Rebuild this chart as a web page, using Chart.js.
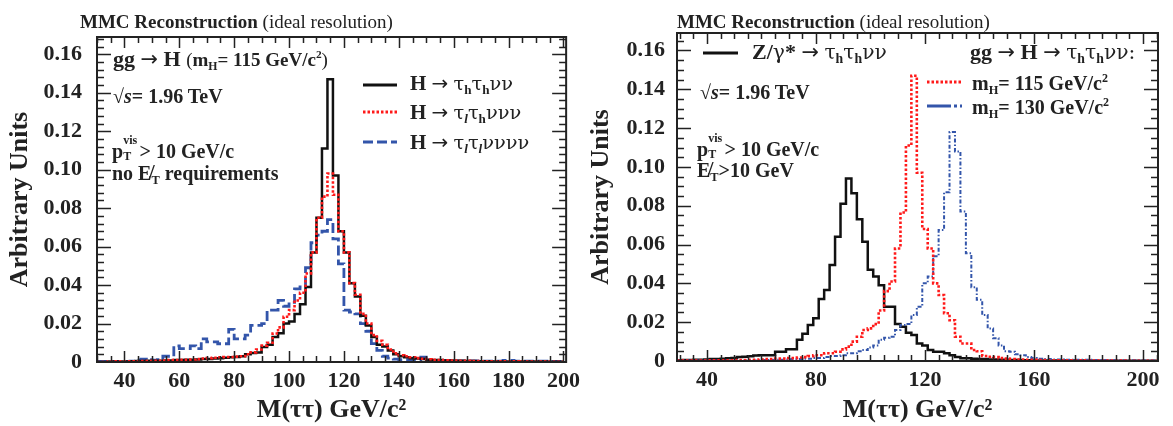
<!DOCTYPE html>
<html><head><meta charset="utf-8">
<script src="https://cdn.jsdelivr.net/npm/chart.js@4.4.1/dist/chart.umd.min.js"></script>
<style>
html,body{margin:0;padding:0;background:#fff;}
#wrap{position:relative;width:1173px;height:426px;overflow:hidden;background:#fff}
canvas{position:absolute;top:0}
.a{position:absolute;font-family:'Liberation Serif',serif;font-weight:bold;font-size:20px;line-height:1;white-space:nowrap;color:#222}
.n{font-weight:normal}
.g{font-family:'DejaVu Serif',serif;font-weight:normal;font-size:0.92em}
.ar{font-family:'DejaVu Sans',sans-serif;font-weight:normal;font-size:0.95em}
.a sub{font-family:'Liberation Serif',serif;font-size:0.62em;vertical-align:-0.3em;line-height:0;font-weight:bold}
.g sub{font-size:0.68em}
.a sup{font-size:0.6em;vertical-align:0.7em;line-height:0}
.st{display:inline-block;position:relative;width:0.82em;height:1em}
.st b{position:absolute;left:0;font-size:12px;line-height:1}
svg{position:absolute;left:0;top:0;overflow:visible}
</style></head><body>
<div id="wrap">
<canvas id="c1" width="586" height="426" style="left:0"></canvas>
<canvas id="c2" width="587" height="426" style="left:586px"></canvas>
<svg width="1173" height="426">
  <line x1="363" y1="85" x2="397" y2="85" stroke="#111" stroke-width="3"/>
  <line x1="363" y1="112" x2="397" y2="112" stroke="#ff1a1a" stroke-width="3" stroke-dasharray="2.5,2"/>
  <line x1="363" y1="142" x2="397" y2="142" stroke="#3355aa" stroke-width="3" stroke-dasharray="10,4"/>
  <line x1="703" y1="53" x2="738" y2="53" stroke="#111" stroke-width="3"/>
  <line x1="927" y1="82" x2="962" y2="82" stroke="#ff1a1a" stroke-width="3" stroke-dasharray="2.5,2"/>
  <line x1="927" y1="106" x2="962" y2="106" stroke="#3355aa" stroke-width="3" stroke-dasharray="24,3,3,3"/>
</svg>
<!-- left panel texts -->
<div class="a" style="left:80px;top:12px;font-size:19px">MMC Reconstruction <span class="n">(ideal resolution)</span></div>
<div class="a" style="left:113px;top:48px;font-size:22px">gg <span class="ar">→</span> H <span style="font-size:19px"><span class="n">(</span>m<sub>H</sub>= 115 GeV/c<sup>2</sup><span class="n">)</span></span></div>
<div class="a" style="left:113px;top:86px">√<i>s</i>= 1.96 TeV</div>
<div class="a" style="left:112px;top:138px">p<span class="st"><b style="top:-4px">vis</b><b style="top:12px">T</b></span>&gt; 10 GeV/c</div>
<div class="a" style="left:112px;top:163px">no E̸<sub>T</sub> requirements</div>
<div class="a" style="left:410px;top:73px;font-size:21px">H <span class="ar">→</span> <span class="g">τ<sub>h</sub>τ<sub>h</sub>νν</span></div>
<div class="a" style="left:410px;top:102px;font-size:21px">H <span class="ar">→</span> <span class="g">τ<sub><i>l</i></sub>τ<sub>h</sub>ννν</span></div>
<div class="a" style="left:410px;top:132px;font-size:21px">H <span class="ar">→</span> <span class="g">τ<sub><i>l</i></sub>τ<sub><i>l</i></sub>νννν</span></div>
<!-- right panel texts -->
<div class="a" style="left:677px;top:12px;font-size:19px">MMC Reconstruction <span class="n">(ideal resolution)</span></div>
<div class="a" style="left:752px;top:41px;font-size:22px">Z/<span class="g">γ</span>* <span class="ar">→</span> <span class="g">τ<sub>h</sub>τ<sub>h</sub>νν</span></div>
<div class="a" style="left:970px;top:41px;font-size:22px">gg <span class="ar">→</span> H <span class="ar">→</span> <span class="g">τ<sub>h</sub>τ<sub>h</sub>νν:</span></div>
<div class="a" style="left:972px;top:73px">m<sub>H</sub>= 115 GeV/c<sup>2</sup></div>
<div class="a" style="left:972px;top:97px">m<sub>H</sub>= 130 GeV/c<sup>2</sup></div>
<div class="a" style="left:700px;top:82px">√<i>s</i>= 1.96 TeV</div>
<div class="a" style="left:697px;top:136px">p<span class="st"><b style="top:-4px">vis</b><b style="top:12px">T</b></span>&gt; 10 GeV/c</div>
<div class="a" style="left:697px;top:160px">E̸<sub>T</sub>&gt;10 GeV</div>
</div>
<script>
// ---- binning and tick labels ----
const leftBinStart = 30;
const rightBinStart = 29;
const binWidth = 2;
const leftXTicks = [40, 60, 80, 100, 120, 140, 160, 180, 200];
const rightXTicks = [40, 80, 120, 160, 200];
const yTicks = [0, 0.02, 0.04, 0.06, 0.08, 0.10, 0.12, 0.14, 0.16];
const seriesNames = ['H → τhτhνν', 'H → τlτhννν', 'H → τlτlνννν', 'Z/γ* → τhτhνν', 'mH = 115 GeV/c²', 'mH = 130 GeV/c²'];

// ---- left panel: gg -> H (mH = 115), bins 30..200 ----
const leftHadHad = [
  0, 0, 0.0002, 0.0002, 0.0003,
  0.0003, 0.0004, 0.0005, 0.0005, 0.0006,
  0.0006, 0.0007, 0.0008, 0.0008, 0.001,
  0.001, 0.0012, 0.0012, 0.0013, 0.0015,
  0.0015, 0.0018, 0.002, 0.0022, 0.0025,
  0.0026, 0.003, 0.004, 0.0047, 0.005,
  0.0078, 0.009, 0.013, 0.015, 0.02,
  0.021, 0.025, 0.03, 0.039, 0.057,
  0.075, 0.111, 0.147, 0.097, 0.068,
  0.057, 0.041, 0.034, 0.024, 0.019,
  0.013, 0.009, 0.008, 0.006, 0.004,
  0.003, 0.0025, 0.002, 0.0018, 0.0015,
  0.0012, 0.001, 0.001, 0.0008, 0.0008,
  0.0007, 0.0006, 0.0005, 0.0005, 0.0004,
  0.0004, 0.0004, 0.0003, 0.0003, 0.0003,
  0.0003, 0.0002, 0.0002, 0.0002, 0.0002,
  0.0002, 0.0002, 0.0001, 0.0001, 0.0001
];
const leftLepHad = [
  0, 0, 0.0002, 0.0003, 0.0003,
  0.0003, 0.0003, 0.0004, 0.0005, 0.0005,
  0.0006, 0.0006, 0.0008, 0.001, 0.001,
  0.0012, 0.0012, 0.0013, 0.0015, 0.0018,
  0.002, 0.0022, 0.0025, 0.0026, 0.0026,
  0.0028, 0.003, 0.004, 0.005, 0.0065,
  0.0085, 0.01, 0.0148, 0.018, 0.0235,
  0.027, 0.032, 0.036, 0.046, 0.057,
  0.075, 0.086, 0.098, 0.087, 0.068,
  0.057, 0.041, 0.035, 0.025, 0.02,
  0.014, 0.011, 0.009, 0.0065, 0.0045,
  0.0035, 0.003, 0.0025, 0.002, 0.0017,
  0.0014, 0.0012, 0.001, 0.0009, 0.0008,
  0.0007, 0.0006, 0.0006, 0.0005, 0.0005,
  0.0004, 0.0004, 0.0004, 0.0003, 0.0003,
  0.0003, 0.0003, 0.0002, 0.0002, 0.0002,
  0.0002, 0.0002, 0.0002, 0.0001, 0.0001
];
const leftLepLep = [
  0.0003, 0.0003, 0.0003, 0.0003, 0.0003,
  0.0003, 0.0005, 0.001, 0.0015, 0.0012,
  0.001, 0.0012, 0.003, 0.003, 0.0084,
  0.007, 0.007, 0.0084, 0.007, 0.012,
  0.0105, 0.0105, 0.0095, 0.0095, 0.017,
  0.012, 0.012, 0.014, 0.019, 0.019,
  0.020, 0.027, 0.027, 0.032, 0.029,
  0.031, 0.038, 0.039, 0.049, 0.062,
  0.066, 0.068, 0.074, 0.064, 0.051,
  0.027, 0.026, 0.025, 0.020, 0.016,
  0.0096, 0.006, 0.003, 0.002, 0.0015,
  0.0012, 0.0012, 0.001, 0.001, 0.0025,
  0.001, 0.0008, 0.0008, 0.0008, 0.0008,
  0.0006, 0.0006, 0.0006, 0.0006, 0.0006,
  0.0005, 0.0005, 0.0005, 0.0005, 0.0008,
  0.0008, 0.0005, 0.0005, 0.0004, 0.0004,
  0.0004, 0.0004, 0.0003, 0.0003, 0.0003
];

// ---- right panel: Z vs H, bins 29..205 ----
const rightZ = [
  0.0004,
  0.0005, 0.0005, 0.0006, 0.0006, 0.0008,
  0.001, 0.001, 0.0012, 0.0014, 0.0015,
  0.002, 0.0022, 0.0025, 0.0028, 0.003,
  0.003, 0.003, 0.0048, 0.0048, 0.006,
  0.006, 0.011, 0.014, 0.0186, 0.022,
  0.032, 0.0366, 0.0495, 0.064, 0.081,
  0.094, 0.0864, 0.073, 0.0615, 0.047,
  0.0435, 0.039, 0.028, 0.028, 0.019,
  0.0177, 0.0146, 0.0134, 0.009, 0.008,
  0.0057, 0.0048, 0.0048, 0.004, 0.003,
  0.002, 0.0014, 0.0014, 0.0012, 0.001,
  0.001, 0.0008, 0.0008, 0.0007, 0.0006,
  0.0005, 0.0005, 0.0004, 0.0004, 0.0003,
  0.0003, 0.0003, 0.0003, 0.0002, 0.0002,
  0.0002, 0.0002, 0.0002, 0.0002, 0.0002,
  0.0001, 0.0001, 0.0001, 0.0001, 0.0001,
  0.0001, 0.0001, 0.0001, 0.0001, 0.0001,
  0.0001, 0.0001
];
const rightH115 = [
  0.0002,
  0.0002, 0.0002, 0.0002, 0.0002, 0.0002,
  0.0003, 0.0003, 0.0003, 0.0003, 0.0003,
  0.0005, 0.0005, 0.0006, 0.0006, 0.0008,
  0.001, 0.001, 0.0012, 0.0012, 0.0015,
  0.0015, 0.0018, 0.002, 0.0025, 0.003,
  0.003, 0.004, 0.004, 0.0048, 0.006,
  0.0074, 0.010, 0.0125, 0.016, 0.0168,
  0.019, 0.026, 0.036, 0.041, 0.058,
  0.0765, 0.111, 0.147, 0.097, 0.068,
  0.058, 0.040, 0.034, 0.0246, 0.021,
  0.0125, 0.009, 0.009, 0.0057, 0.005,
  0.0026, 0.0022, 0.002, 0.0015, 0.0012,
  0.001, 0.0008, 0.0008, 0.0006, 0.0006,
  0.0005, 0.0005, 0.0004, 0.0004, 0.0003,
  0.0003, 0.0003, 0.0003, 0.0003, 0.0003,
  0.0002, 0.0002, 0.0002, 0.0002, 0.0002,
  0.0002, 0.0002, 0.0001, 0.0001, 0.0001,
  0.0001, 0.0001
];
const rightH130 = [
  0.0002,
  0.0002, 0.0002, 0.0002, 0.0002, 0.0002,
  0.0002, 0.0002, 0.0002, 0.0002, 0.0002,
  0.0003, 0.0003, 0.0003, 0.0003, 0.0003,
  0.0005, 0.0005, 0.0006, 0.0006, 0.0008,
  0.001, 0.001, 0.0012, 0.0012, 0.0015,
  0.0015, 0.002, 0.0026, 0.0026, 0.003,
  0.004, 0.004, 0.005, 0.0057, 0.007,
  0.008, 0.011, 0.012, 0.0125, 0.016,
  0.0185, 0.019, 0.0237, 0.028, 0.040,
  0.0435, 0.054, 0.0675, 0.087, 0.118,
  0.108, 0.077, 0.0555, 0.038, 0.0315,
  0.0237, 0.0168, 0.0117, 0.008, 0.005,
  0.0048, 0.0035, 0.003, 0.002, 0.0015,
  0.0012, 0.001, 0.001, 0.0008, 0.0008,
  0.0006, 0.0006, 0.0006, 0.0006, 0.0006,
  0.0005, 0.0005, 0.0005, 0.0005, 0.0005,
  0.0004, 0.0004, 0.0004, 0.0004, 0.0004,
  0.0003, 0.0003
];

const BLACK = '#111111', RED = '#ff1a1a', BLUE = '#3355aa';
Chart.defaults.font.family = "'Liberation Serif', serif";

function steps(vals, start) {
  const pts = vals.map((v, i) => ({x: start + i * binWidth, y: v}));
  pts.push({x: start + vals.length * binWidth, y: vals[vals.length - 1]});
  return pts;
}

function makeFrame(cfg) {
  return {
    id: 'frame',
    afterDatasetsDraw(chart) {
      const {ctx, chartArea: a} = chart;
      const x = chart.scales.x, y = chart.scales.y;
      ctx.save();
      ctx.strokeStyle = '#222';
      ctx.lineWidth = 1.5;
      ctx.beginPath();
      const n0 = Math.ceil(x.min / cfg.xMinor), n1 = Math.floor(x.max / cfg.xMinor);
      for (let k = n0; k <= n1; k++) {
        const v = k * cfg.xMinor;
        const px = Math.round(x.getPixelForValue(v)) + 0.5;
        const len = cfg.xTicks.includes(v) ? 11 : 6;
        ctx.moveTo(px, a.bottom); ctx.lineTo(px, a.bottom - len);
        ctx.moveTo(px, a.top); ctx.lineTo(px, a.top + len);
      }
      const m1 = Math.floor(y.max / cfg.yMinor + 1e-6);
      for (let k = 1; k <= m1; k++) {
        const v = k * cfg.yMinor;
        const py = Math.round(y.getPixelForValue(v)) + 0.5;
        const r = v / 0.02;
        const len = Math.abs(r - Math.round(r)) < 1e-6 ? 14 : 7;
        ctx.moveTo(a.left, py); ctx.lineTo(a.left + len, py);
        ctx.moveTo(a.right, py); ctx.lineTo(a.right - len, py);
      }
      ctx.stroke();
      ctx.lineWidth = 2;
      ctx.strokeRect(a.left, a.top, a.right - a.left, a.bottom - a.top);
      ctx.restore();
    }
  };
}

function makeChart(id, cfg) {
  const tickFont = {family: "'Liberation Serif', serif", weight: 'bold', size: 22};
  const titleFont = {family: "'Liberation Serif', serif", weight: 'bold', size: 26};
  return new Chart(document.getElementById(id), {
    type: 'line',
    data: {
      datasets: cfg.datasets.map(d => ({
        label: d.label,
        data: steps(d.vals, cfg.binStart),
        borderColor: d.color,
        borderWidth: d.width,
        borderDash: d.dash || [],
        stepped: 'before',
        pointRadius: 0,
        fill: false,
        tension: 0
      }))
    },
    options: {
      responsive: false,
      animation: false,
      events: [],
      layout: {padding: {top: cfg.top, right: cfg.right, left: 0, bottom: 0}},
      plugins: {legend: {display: false}, tooltip: {enabled: false}},
      scales: {
        x: {
          type: 'linear', min: cfg.xmin, max: cfg.xmax,
          afterBuildTicks: s => { s.ticks = cfg.xTicks.map(v => ({value: v})); },
          afterFit: s => { s.height = cfg.xh; },
          grid: {display: false, drawTicks: false, tickLength: 0},
          border: {display: false},
          ticks: {font: tickFont, color: '#222', padding: cfg.xpad, maxRotation: 0, autoSkip: false,
                  callback: v => String(v)},
          title: {display: true, text: 'M(ττ) GeV/c²', font: titleFont, color: '#222',
                  padding: {top: 0, bottom: cfg.xtitlePad}}
        },
        y: {
          type: 'linear', min: 0, max: 0.169,
          afterBuildTicks: s => { s.ticks = yTicks.map(v => ({value: v})); },
          afterFit: s => { s.width = cfg.yw; },
          grid: {display: false, drawTicks: false, tickLength: 0},
          border: {display: false},
          ticks: {font: tickFont, color: '#222', padding: cfg.ypad, autoSkip: false,
                  callback: v => (v === 0 ? '0' : v.toFixed(2))},
          title: {display: true, text: 'Arbitrary Units', font: titleFont, color: '#222',
                  padding: {top: cfg.ytitlePad, bottom: 0}}
        }
      }
    },
    plugins: [makeFrame(cfg)]
  });
}

makeChart('c1', {
  top: 37, right: 18, yw: 97, xh: 64, xmin: 30, xmax: 201, binStart: leftBinStart,
  xTicks: leftXTicks, xMinor: 5, yMinor: 0.004, xpad: 6, ypad: 15, xtitlePad: 0, ytitlePad: 5,
  datasets: [
    {label: seriesNames[1], vals: leftLepHad, color: RED, width: 2.6, dash: [2.5, 2]},
    {label: seriesNames[0], vals: leftHadHad, color: BLACK, width: 2.5},
    {label: seriesNames[2], vals: leftLepLep, color: BLUE, width: 2.8, dash: [10, 4]}
  ]
});
makeChart('c2', {
  top: 33, right: 15, yw: 91, xh: 65, xmin: 29, xmax: 205.5, binStart: rightBinStart,
  xTicks: rightXTicks, xMinor: 5, yMinor: 0.005, xpad: 6, ypad: 12, xtitlePad: 0, ytitlePad: 0,
  datasets: [
    {label: seriesNames[4], vals: rightH115, color: RED, width: 2.6, dash: [2.5, 2]},
    {label: seriesNames[5], vals: rightH130, color: BLUE, width: 2, dash: [4, 2, 1.5, 2]},
    {label: seriesNames[3], vals: rightZ, color: BLACK, width: 2.5}
  ]
});
</script>
</body></html>
